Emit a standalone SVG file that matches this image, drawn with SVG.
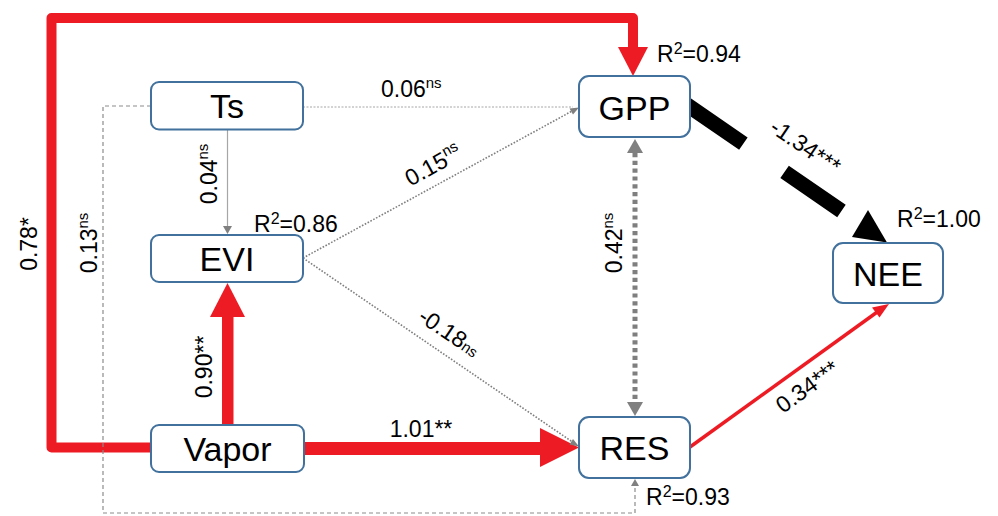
<svg xmlns="http://www.w3.org/2000/svg" width="998" height="516" viewBox="0 0 998 516">
<style>
.box{fill:#fff;stroke:#41719c;stroke-width:2}
.nl{font-family:"Liberation Sans",Arial,sans-serif;font-size:34px;fill:#000;text-anchor:middle}
.lb{font-family:"Liberation Sans",Arial,sans-serif;font-size:23px;fill:#000}
.c{text-anchor:middle}
.red{fill:#ed1c24}
.gray{fill:#808080}
</style>
<rect width="998" height="516" fill="#fff"/>
<g id="connectors">
  <path d="M151,447.5 H51.5 V18 H633 V48" fill="none" stroke="#ed1c24" stroke-width="10" stroke-linejoin="round"/>
  <polygon class="red" points="618,47 648,47 633,76"/>
  <rect class="red" x="222" y="315" width="11.5" height="110"/>
  <polygon class="red" points="210,317 245,317 227.5,283"/>
  <rect class="red" x="303" y="442" width="239" height="13"/>
  <polygon class="red" points="540,428 540,467 579,447.5"/>
  <line x1="690" y1="447" x2="880" y2="310" stroke="#ed1c24" stroke-width="3.5"/>
  <polygon class="red" points="889,304 872,307.5 879.5,317.5"/>
  <line x1="686.5" y1="104.5" x2="859" y2="223" stroke="#000" stroke-width="15" stroke-dasharray="69 50"/>
  <polygon fill="#000" points="887,242.5 852,237 868,210"/>
  <line x1="635" y1="153" x2="635" y2="402" stroke="#7f7f7f" stroke-width="5" stroke-dasharray="4.2 3.6"/>
  <polygon class="gray" points="627,153 643,153 635,139"/>
  <polygon class="gray" points="627,402 643,402 635,416"/>
  <line x1="303" y1="107" x2="573" y2="107" stroke="#a6a6a6" stroke-width="1" stroke-dasharray="2 1.5"/>
  <line x1="303" y1="258" x2="574" y2="110" stroke="#7f7f7f" stroke-width="1.6" stroke-dasharray="1.6 1.6"/>
  <polygon class="gray" points="579,107.5 569.5,108.5 573,114.5"/>
  <line x1="303" y1="258" x2="574" y2="443" stroke="#7f7f7f" stroke-width="1.6" stroke-dasharray="1.6 1.6"/>
  <polygon class="gray" points="579,446.5 573,439 569.5,444.5"/>
  <line x1="227.5" y1="130" x2="227.5" y2="227" stroke="#a6a6a6" stroke-width="1.2"/>
  <polygon class="gray" points="223,226 232,226 227.5,234"/>
  <path d="M151,106 H103 V513 H635 V485" fill="none" stroke="#8c8c8c" stroke-width="1.2" stroke-dasharray="4 3"/>
  <polygon class="gray" points="631,486 639,486 635,479"/>
</g>
<g id="Ts"><rect class="box" x="151" y="82" width="152" height="47.5" rx="8"/><text class="nl" x="227" y="118">Ts</text></g>
<g id="EVI"><rect class="box" x="151" y="235" width="152" height="47" rx="8"/><text class="nl" x="227" y="271">EVI</text></g>
<g id="Vapor"><rect class="box" x="151" y="425" width="153" height="47" rx="8"/><text class="nl" x="227.5" y="461">Vapor</text></g>
<g id="GPP"><rect class="box" x="579" y="76" width="111" height="61" rx="10"/><text class="nl" x="634.5" y="119.5">GPP</text></g>
<g id="RES"><rect class="box" x="579" y="417" width="111" height="61" rx="10"/><text class="nl" x="634.5" y="460">RES</text></g>
<g id="NEE"><rect class="box" x="833" y="243" width="110" height="60" rx="10"/><text class="nl" x="888" y="285.5">NEE</text></g>
<g id="labels">
  <text class="lb" x="657" y="62">R<tspan font-size="16" dy="-8">2</tspan><tspan dy="8">=0.94</tspan></text>
  <text class="lb" x="897" y="227">R<tspan font-size="16" dy="-8">2</tspan><tspan dy="8">=1.00</tspan></text>
  <text class="lb" x="254" y="232">R<tspan font-size="16" dy="-8">2</tspan><tspan dy="8">=0.86</tspan></text>
  <text class="lb" x="646" y="505">R<tspan font-size="16" dy="-8">2</tspan><tspan dy="8">=0.93</tspan></text>
  <text class="lb" x="381" y="97">0.06<tspan font-size="15" dy="-9">ns</tspan></text>
  <text class="lb c" x="421" y="437">1.01**</text>
  <text class="lb c" transform="translate(37,244) rotate(-90)">0.78*</text>
  <text class="lb c" transform="translate(96.5,243) rotate(-90)">0.13<tspan font-size="15" dy="-9">ns</tspan></text>
  <text class="lb c" transform="translate(217,174) rotate(-90)">0.04<tspan font-size="15" dy="-9">ns</tspan></text>
  <text class="lb c" transform="translate(212,367) rotate(-90)">0.90**</text>
  <text class="lb c" transform="translate(622,243) rotate(-90)">0.42<tspan font-size="15" dy="-9">ns</tspan></text>
  <text class="lb c" transform="translate(437,172) rotate(-29)">0.15<tspan font-size="15" dy="-9">ns</tspan></text>
  <text class="lb c" transform="translate(445,339) rotate(34)">-0.18<tspan font-size="15">ns</tspan></text>
  <text class="lb c" transform="translate(801,153) rotate(34)">-1.34***</text>
  <text class="lb c" transform="translate(812,393) rotate(-36)">0.34***</text>
</g>
</svg>
